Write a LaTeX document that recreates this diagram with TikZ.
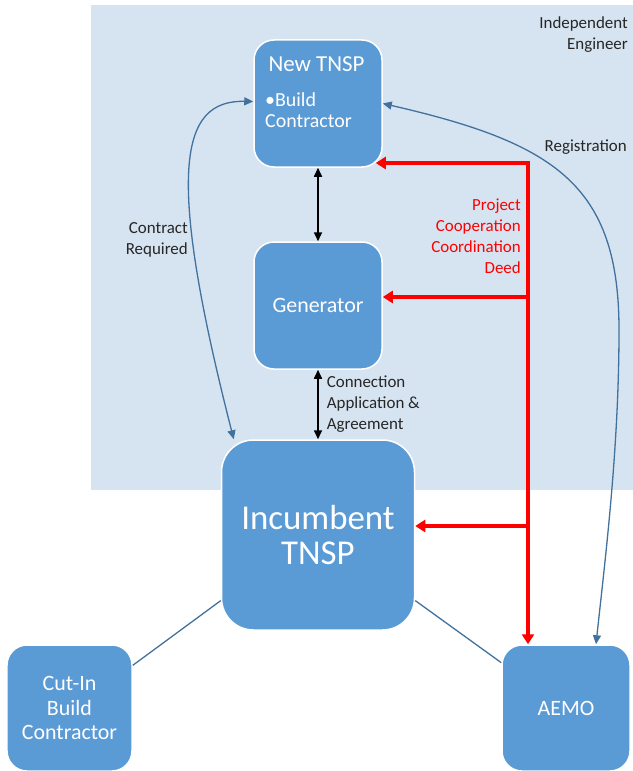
\documentclass[tikz,border=0pt]{standalone}
\usepackage{fontspec}
\setmainfont{Carlito}
\usetikzlibrary{arrows.meta, calc, positioning}
\definecolor{bgblue}{HTML}{D6E4F1}
\definecolor{boxblue}{HTML}{5B9BD5}
\definecolor{lineblue}{HTML}{41719C}
\definecolor{txtgray}{HTML}{262626}
\definecolor{deedred}{HTML}{FF0000}

\begin{document}
\begin{tikzpicture}[x=1bp, y=1bp,
        party/.style={draw=white, line width=1.5bp, fill=boxblue, text=white, rounded corners=20bp,
            minimum width=128bp, minimum height=127bp, inner sep=0pt, align=center,
            font=\fontsize{22}{24.5}\selectfont},
        bigparty/.style={party, rounded corners=32bp, minimum width=193bp, minimum height=190bp,
            font=\fontsize{35}{36}\selectfont},
        tag/.style={text=txtgray, inner sep=0pt, font=\fontsize{17}{21}\selectfont},
        flow/.style={lineblue, line width=1.3bp, {Triangle[length=9bp,width=8bp]}-{Triangle[length=9bp,width=8bp]}},
        stem/.style={black, line width=1.6bp, {Triangle[length=9bp,width=8bp]}-{Triangle[length=9bp,width=8bp]}},
        deed/.style={deedred, line width=3.5bp, line join=miter, {Triangle[length=10bp,width=12bp]}-{Triangle[length=10bp,width=12bp]}},
        link/.style={lineblue, line width=1.3bp}]
    \useasboundingbox (0,0) rectangle (633,-771);
    \fill[bgblue] (91,-5.5) rectangle (633,-489.5);
    \node[tag, align=right, anchor=east] (ie) at (628,-35) {Independent\\Engineer};

    \node[party] (newtnsp) at (318,-103.5) {};
    \node[text=white, inner sep=0pt, font=\fontsize{23}{26}\selectfont] (newtitle) at (316.5,-64) {New TNSP};
    \node[text=white, inner sep=0pt, align=left, anchor=west, font=\fontsize{20}{21}\selectfont] (newbuild) at (265,-110) {\textbullet Build\\Contractor};
    \node[party] (gen) at (318,-305.5) {Generator};
    \node[bigparty] (inc) at (318,-535) {Incumbent\\TNSP};
    \node[party, minimum width=125bp, minimum height=126bp] (cutin) at (69.5,-708) {Cut-In\\Build\\Contractor};
    \node[party, minimum height=126bp] (aemo) at (566,-708) {AEMO};

    \draw[stem] (newtnsp) -- (gen);
    \draw[stem] (gen) -- (inc) node[midway, right, tag, align=left, xshift=8bp] (conn) {Connection\\Application \&\\Agreement};

    \coordinate (redtop) at (528,-163);
    \coordinate (redgen) at (528,-297);
    \coordinate (redinc) at (528,-526);
    \draw[deed] ([xshift=-7bp]redtop -| newtnsp.east) -- (redtop) -- (redtop |- aemo.north);
    \draw[deed, {Triangle[length=10bp,width=12bp]}-] (redgen -| gen.east) -- (redgen);
    \draw[deed, {Triangle[length=10bp,width=12bp]}-] (redinc -| inc.east) -- (redinc);
    \node[tag, text=deedred, align=right, anchor=east] (deedlbl) at (521,-236.5) {Project\\Cooperation\\Coordination\\Deed};

    \draw[flow] ([xshift=13bp]inc.north west) .. controls (165,-170) and (180,-100) .. ([yshift=2bp]newtnsp.west);
    \node[tag, align=right, anchor=east] (contract) at (188,-240) {Contract\\Required};

    \coordinate (regbend) at (619,-330);
    \draw[flow] (newtnsp.east) .. controls (555,-143) and (619,-185) .. (regbend)
        .. controls (619,-450) and (605,-560) .. ([xshift=30bp]aemo.north);
    \node[tag, anchor=east] (reg) at (627,-147) {Registration};

    \draw[link] (inc.214.6) -- (cutin.34.5);
    \draw[link] (inc.-34.6) -- (aemo.145.7);
\end{tikzpicture}
\end{document}
